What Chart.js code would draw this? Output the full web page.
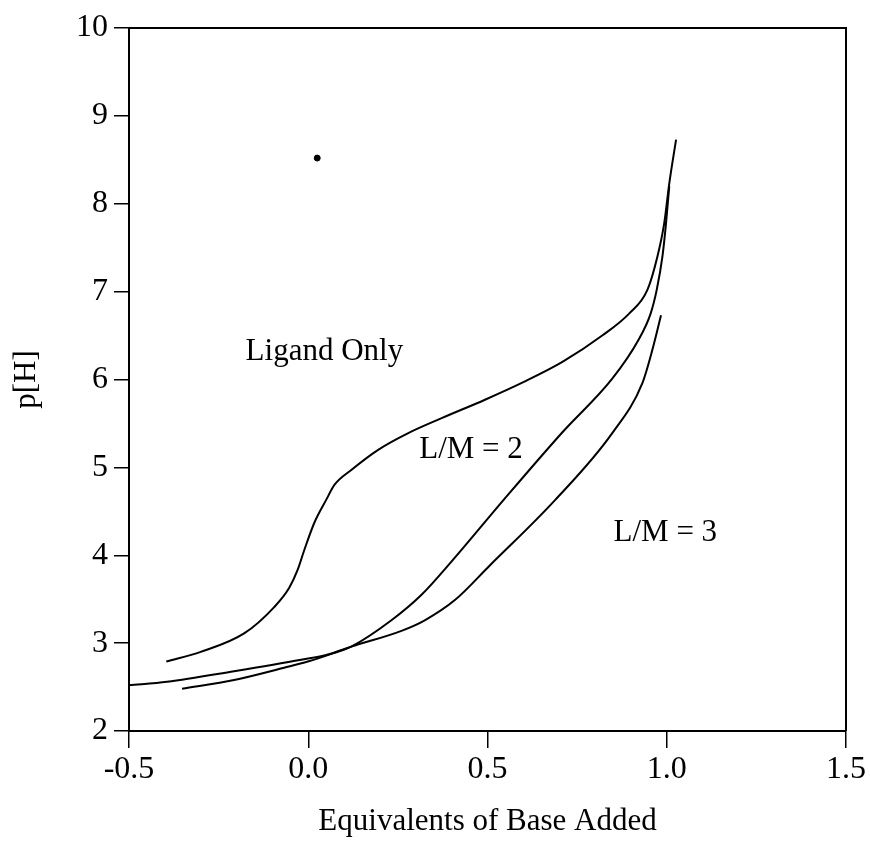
<!DOCTYPE html>
<html>
<head>
<meta charset="utf-8">
<script src="https://cdn.jsdelivr.net/npm/chart.js@4.4.1/dist/chart.umd.min.js"></script>
<style>
  html, body { margin: 0; padding: 0; background: #ffffff; }
  #wrap { width: 870px; height: 844px; }
</style>
</head>
<body>
<div id="wrap"><canvas id="c" width="870" height="844"></canvas></div>
<script>
// ---- data ----
const ligandX = [-0.396, -0.30, -0.179, -0.095, -0.053, -0.03, -0.011, 0.017, 0.05, 0.073, 0.12, 0.195, 0.279, 0.372, 0.493, 0.60, 0.709, 0.82, 0.895, 0.946, 0.974, 0.993, 1.007, 1.026];
const ligandY = [2.79, 2.90, 3.11, 3.41, 3.63, 3.83, 4.06, 4.37, 4.63, 4.80, 4.97, 5.20, 5.39, 5.56, 5.77, 5.97, 6.20, 6.50, 6.75, 7.02, 7.40, 7.78, 8.23, 8.73];

const lm2X = [-0.352, -0.207, -0.067, -0.001, 0.073, 0.12, 0.232, 0.316, 0.40, 0.545, 0.709, 0.848, 0.921, 0.955, 0.972, 0.988, 0.998, 1.007];
const lm2Y = [2.48, 2.58, 2.72, 2.79, 2.89, 2.96, 3.26, 3.55, 3.93, 4.63, 5.40, 6.01, 6.45, 6.75, 7.02, 7.40, 7.78, 8.20];

const lm3X = [-0.5, -0.394, -0.207, -0.02, 0.055, 0.12, 0.26, 0.325, 0.409, 0.503, 0.689, 0.848, 0.932, 0.96, 0.984];
const lm3Y = [2.52, 2.56, 2.68, 2.81, 2.87, 2.96, 3.14, 3.26, 3.49, 3.87, 4.63, 5.39, 5.96, 6.34, 6.73];

const dotX = [0.025];
const dotY = [8.52];

const xTicks = [-0.5, 0.0, 0.5, 1.0, 1.5];
const xTickLabels = ['-0.5', '0.0', '0.5', '1.0', '1.5'];
const yTicks = [2, 3, 4, 5, 6, 7, 8, 9, 10];
const yTickLabels = ['2', '3', '4', '5', '6', '7', '8', '9', '10'];

const labelTexts = ['Ligand Only', 'L/M = 2', 'L/M = 3'];
const labelX = [0.045, 0.454, 0.996];
const labelY = [6.32, 5.20, 4.26];

const xTitle = 'Equivalents of Base Added';
const yTitle = 'p[H]';

// ---- build ----
function pts(xs, ys) { return xs.map((x, i) => ({ x: x, y: ys[i] })); }

const FONT = "'Liberation Serif', 'Times New Roman', serif";

const curveStyle = {
  showLine: true, borderColor: '#000', borderWidth: 2, pointRadius: 0,
  cubicInterpolationMode: 'monotone', fill: false
};

const framePlugin = {
  id: 'frame',
  afterDraw(chart) {
    const { ctx, chartArea: a } = chart;
    ctx.save();
    ctx.strokeStyle = '#000';
    ctx.lineWidth = 2;
    ctx.beginPath();
    ctx.moveTo(a.left, a.top); ctx.lineTo(a.right, a.top); ctx.lineTo(a.right, a.bottom);
    ctx.stroke();
    // text annotations
    ctx.fillStyle = '#000';
    ctx.font = '31px ' + FONT;
    ctx.textAlign = 'center';
    ctx.textBaseline = 'middle';
    const xs = chart.scales.x, ys = chart.scales.y;
    labelTexts.forEach((t, i) => {
      ctx.fillText(t, xs.getPixelForValue(labelX[i]), ys.getPixelForValue(labelY[i]));
    });
    ctx.restore();
  }
};

new Chart(document.getElementById('c'), {
  type: 'scatter',
  data: {
    datasets: [
      Object.assign({ label: 'Ligand Only', data: pts(ligandX, ligandY) }, curveStyle),
      Object.assign({ label: 'L/M = 2', data: pts(lm2X, lm2Y) }, curveStyle),
      Object.assign({ label: 'L/M = 3', data: pts(lm3X, lm3Y) }, curveStyle),
      { label: 'dot', data: pts(dotX, dotY), pointRadius: 3, pointBackgroundColor: '#000', pointBorderColor: '#000', showLine: false }
    ]
  },
  options: {
    responsive: false,
    animation: false,
    layout: { padding: { top: 28, right: 24, left: 0, bottom: 0 } },
    plugins: { legend: { display: false }, tooltip: { enabled: false } },
    scales: {
      x: {
        type: 'linear', min: -0.5, max: 1.5,
        afterBuildTicks(s) { s.ticks = xTicks.map(v => ({ value: v })); },
        afterFit(s) { s.height = 113; },
        ticks: {
          color: '#000', font: { family: FONT, size: 32 }, padding: 2,
          maxRotation: 0, autoSkip: false,
          callback(v) { const i = xTicks.indexOf(v); return i >= 0 ? xTickLabels[i] : ''; }
        },
        grid: { drawOnChartArea: false, drawTicks: true, tickLength: 17, color: '#000', lineWidth: 1.5 },
        border: { display: true, color: '#000', width: 2 },
        title: { display: true, text: xTitle, color: '#000', font: { family: FONT, size: 31 }, padding: { top: 0, bottom: 4 } }
      },
      y: {
        type: 'linear', min: 2, max: 10,
        afterBuildTicks(s) { s.ticks = yTicks.map(v => ({ value: v })); },
        afterFit(s) { s.width = 129; },
        ticks: {
          color: '#000', font: { family: FONT, size: 32 }, padding: 6, autoSkip: false,
          callback(v) { const i = yTicks.indexOf(v); return i >= 0 ? yTickLabels[i] : ''; }
        },
        grid: { drawOnChartArea: false, drawTicks: true, tickLength: 15, color: '#000', lineWidth: 1.5 },
        border: { display: true, color: '#000', width: 2 },
        title: { display: true, text: yTitle, color: '#000', font: { family: FONT, size: 31 }, padding: { top: 8, bottom: 0 } }
      }
    }
  },
  plugins: [framePlugin]
});
</script>
</body>
</html>
